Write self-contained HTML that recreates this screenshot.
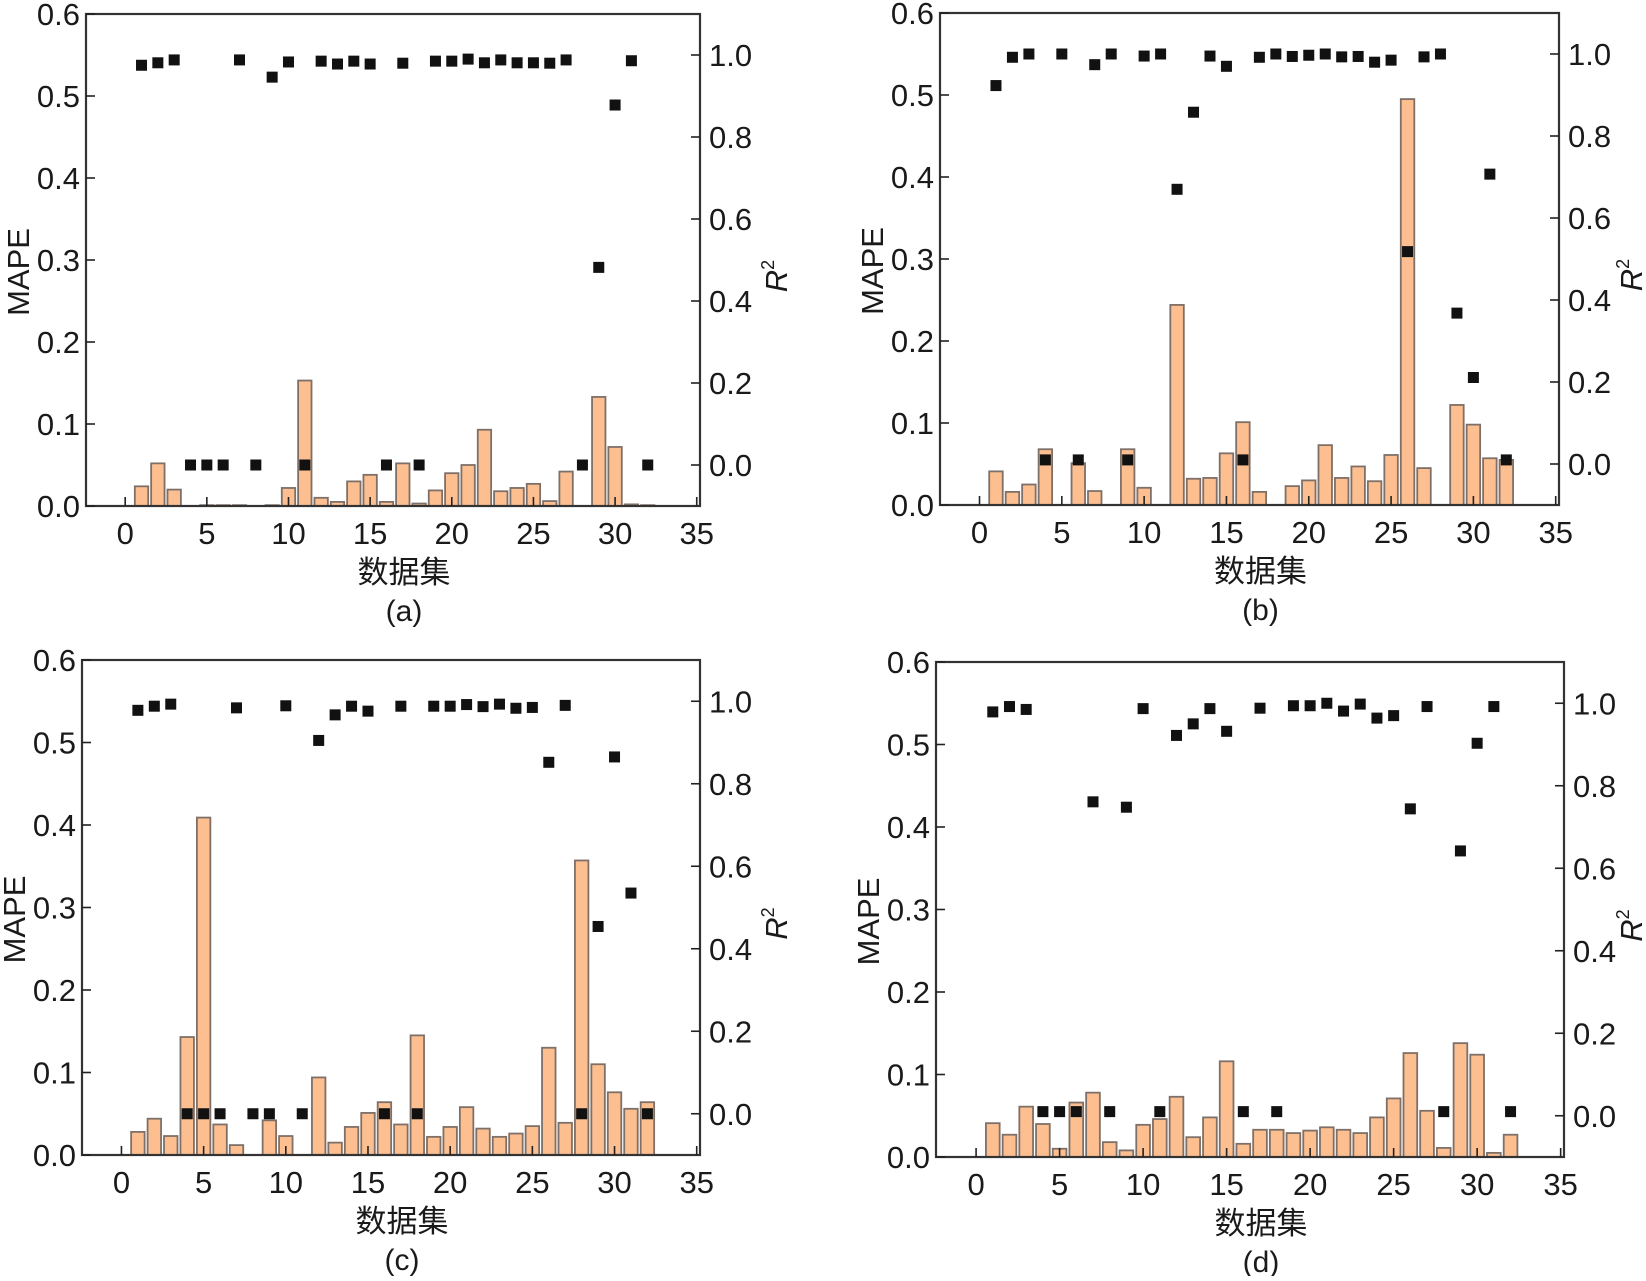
<!DOCTYPE html>
<html><head><meta charset="utf-8">
<style>
html,body{margin:0;padding:0;background:#fff;}
svg text{font-family:"Liberation Sans","Noto Sans CJK SC",sans-serif;fill:#1a1a1a;}
</style></head>
<body>
<svg id="fig" xmlns="http://www.w3.org/2000/svg" width="1646" height="1276" viewBox="0 0 1646 1276"></svg>
<script>
const categories = [1,2,3,4,5,6,7,8,9,10,11,12,13,14,15,16,17,18,19,20,21,22,23,24,25,26,27,28,29,30,31,32];
const xTicks = [0,5,10,15,20,25,30,35];
const mapeTicks = ["0.0","0.1","0.2","0.3","0.4","0.5","0.6"];
const r2Ticks = ["0.0","0.2","0.4","0.6","0.8","1.0"];

const mapeA = [0.024,0.052,0.020,0,0.001,0.001,0.001,0,0.001,0.022,0.153,0.010,0.005,0.030,0.038,0.005,0.052,0.003,0.019,0.040,0.050,0.093,0.018,0.022,0.027,0.006,0.042,0,0.133,0.072,0.002,0.001];
const r2A = [0.975,0.981,0.988,0,0,0,0.988,0,0.946,0.983,0,0.985,0.978,0.985,0.978,0,0.980,0,0.985,0.985,0.990,0.981,0.988,0.981,0.981,0.980,0.988,0,0.482,0.878,0.986,0];

const mapeB = [0.041,0.016,0.025,0.068,0,0.051,0.017,0,0.068,0.021,0,0.244,0.032,0.033,0.063,0.101,0.016,0,0.023,0.030,0.073,0.033,0.047,0.029,0.061,0.495,0.045,0,0.122,0.098,0.057,0.055];
const r2B = [0.923,0.992,1.0,0.01,1.0,0.01,0.974,1.0,0.01,0.995,1.0,0.670,0.858,0.995,0.970,0.01,0.992,1.0,0.994,0.997,1.0,0.993,0.994,0.980,0.985,0.518,0.993,1.0,0.368,0.211,0.707,0.01];

const mapeC = [0.028,0.044,0.023,0.143,0.409,0.037,0.012,0,0.042,0.023,0,0.094,0.015,0.034,0.051,0.064,0.037,0.145,0.022,0.034,0.058,0.032,0.022,0.026,0.035,0.130,0.039,0.357,0.110,0.076,0.056,0.064];
const r2C = [0.978,0.988,0.993,0,0,0,0.984,0,0,0.989,0,0.905,0.967,0.988,0.976,0,0.988,0,0.988,0.988,0.992,0.987,0.993,0.983,0.985,0.852,0.990,0,0.454,0.865,0.535,0];

const mapeD = [0.041,0.027,0.061,0.040,0.010,0.066,0.078,0.018,0.008,0.039,0.046,0.073,0.024,0.048,0.116,0.016,0.033,0.033,0.029,0.032,0.036,0.033,0.029,0.048,0.071,0.126,0.056,0.011,0.138,0.124,0.005,0.027];
const r2D = [0.979,0.992,0.985,0.01,0.01,0.01,0.761,0.01,0.748,0.987,0.01,0.922,0.950,0.987,0.932,0.01,0.988,0.01,0.994,0.994,1.0,0.981,0.998,0.964,0.970,0.744,0.992,0.01,0.642,0.903,0.992,0.01];

const NS = "http://www.w3.org/2000/svg";
const svg = document.getElementById('fig');
function mk(tag, attrs, parent, text){
  const e = document.createElementNS(NS, tag);
  for (const k in attrs) e.setAttribute(k, attrs[k]);
  if (text !== undefined) e.textContent = text;
  parent.appendChild(e);
  return e;
}

function panel(L, T, R, B, mape, r2, letter){
  const g = mk('g', {}, svg);
  
  
  const xMin = -2.4, xMax = 35.2;
  const xs = v => L + (v - xMin) / (xMax - xMin) * (R - L);
  const yM = v => B - v / 0.6 * (B - T);
  const yR = v => B - (v + 0.1) / 1.2 * (B - T);

  const bw = 0.82 * (R - L) / (xMax - xMin);
  categories.forEach((c, i) => {
    const v = mape[i];
    if (v <= 0) return;
    const r = mk('rect', {x: xs(c) - bw/2, y: yM(v), width: bw, height: B - yM(v), fill: '#fdbf90', stroke: '#7e7068', 'stroke-width': 1.8}, g);
    
    
  });
  const ms = 11;
  categories.forEach((c, i) => {
    const m = mk('rect', {x: xs(c) - ms/2, y: yR(r2[i]) - ms/2, width: ms, height: ms, fill: '#111'}, g);
    
    
  });
  const f = mk('rect', {x: L, y: T, width: R - L, height: B - T, fill: 'none', stroke: '#333', 'stroke-width': 2.2}, g);
  
  

  xTicks.forEach(t => {
    mk('line', {x1: xs(t), x2: xs(t), y1: B, y2: B - 9, stroke: '#222', 'stroke-width': 1.6}, g);
    const tx = mk('text', {x: xs(t), y: B + 38, 'font-size': 31, 'text-anchor': 'middle'}, g, String(t));
    
    
  });
  mapeTicks.forEach(t => {
    const y = yM(parseFloat(t));
    mk('line', {x1: L, x2: L + 9, y1: y, y2: y, stroke: '#222', 'stroke-width': 1.6}, g);
    const tx = mk('text', {x: L - 6, y: y + 11, 'font-size': 31, 'text-anchor': 'end'}, g, t);
    
    
  });
  r2Ticks.forEach(t => {
    const y = yR(parseFloat(t));
    mk('line', {x1: R, x2: R - 9, y1: y, y2: y, stroke: '#222', 'stroke-width': 1.6}, g);
    const tx = mk('text', {x: R + 9, y: y + 11, 'font-size': 31, 'text-anchor': 'start'}, g, t);
    
    
  });
  const cx = (L + R) / 2 + 11;
  const xt = mk('text', {x: cx, y: B + 77, 'font-size': 31, 'text-anchor': 'middle'}, g, '数据集');
  
  
  const cap = mk('text', {x: cx, y: B + 115, 'font-size': 30, 'text-anchor': 'middle'}, g, '(' + letter + ')');
  
  
  const cyM = (T + B) / 2 + 12;
  const yt = mk('text', {x: 0, y: 0, 'font-size': 31, 'text-anchor': 'middle', transform: 'translate(' + (L - 57) + ',' + cyM + ') rotate(-90)'}, g, 'MAPE');
  
  
  const rx = Math.min(R + 87, 1642);
  const rt = mk('text', {x: 0, y: 0, 'font-size': 31, 'text-anchor': 'middle', transform: 'translate(' + rx + ',' + ((T + B) / 2 + 16) + ') rotate(-90)'}, g);
  
  
  mk('tspan', {'font-style': 'italic'}, rt, 'R');
  mk('tspan', {'font-size': 18, dy: -13}, rt, '2');
}

panel(86, 14, 700, 506, mapeA, r2A, 'a');
panel(940, 13, 1559, 505, mapeB, r2B, 'b');
panel(82, 660, 700, 1155, mapeC, r2C, 'c');
panel(936, 662, 1564, 1157, mapeD, r2D, 'd');
</script>
</body></html>
